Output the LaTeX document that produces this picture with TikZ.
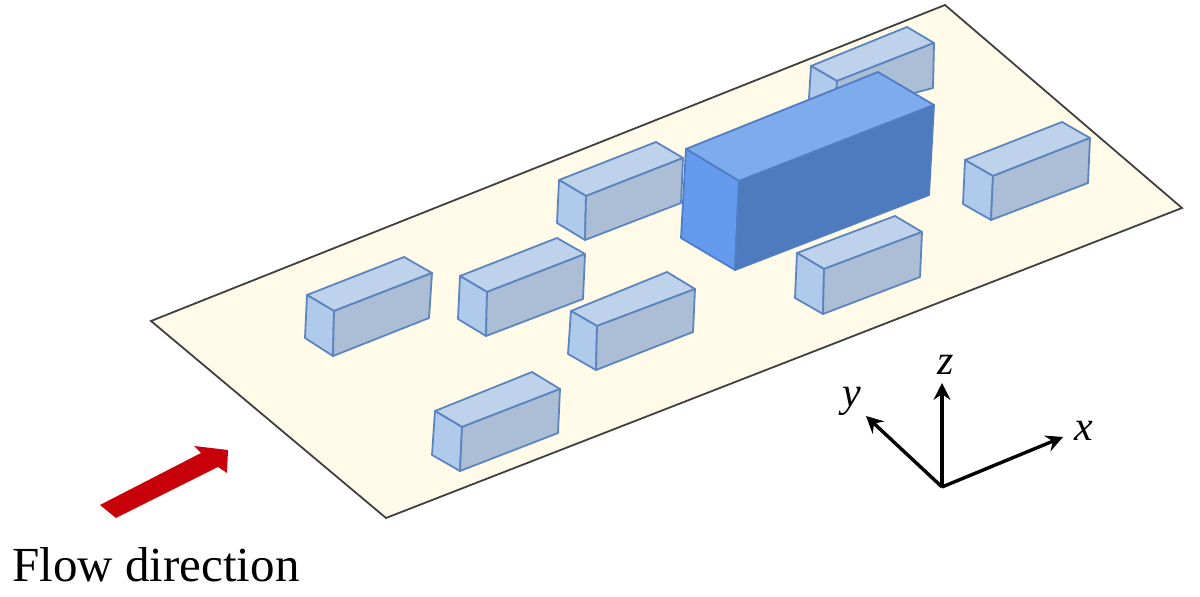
\documentclass[tikz,border=0pt]{standalone}
\usepackage{fontspec}
\setmainfont{Liberation Serif}
\usetikzlibrary{arrows.meta}
\definecolor{plate}{RGB}{255,251,232}
\definecolor{edgeblue}{RGB}{92,133,192}
\definecolor{flowred}{RGB}{200,0,10}
\tikzset{
    lowtop/.style={fill={rgb,255:red,190;green,210;blue,235},draw=edgeblue,line width=0.9pt,line join=round},
    lowend/.style={fill={rgb,255:red,176;green,202;blue,235},draw=edgeblue,line width=0.9pt,line join=round},
    lowside/.style={fill={rgb,255:red,172;green,190;blue,213},draw=edgeblue,line width=0.9pt,line join=round},
    hightop/.style={fill={rgb,255:red,126;green,170;blue,238},draw={rgb,255:red,80;green,125;blue,195},line width=0.9pt,line join=round},
    highend/.style={fill={rgb,255:red,100;green,155;blue,238},draw={rgb,255:red,80;green,125;blue,195},line width=0.9pt,line join=round},
    highside/.style={fill={rgb,255:red,78;green,123;blue,190},draw={rgb,255:red,80;green,125;blue,195},line width=0.9pt,line join=round},
    axisline/.style={-{Stealth[length=8.5pt,width=8.5pt,inset=3pt]},line width=1.7pt},
    axislabel/.style={font=\fontsize{21}{21}\selectfont\itshape,inner sep=0pt}
}
% #1 style prefix, then corners: back top, front top, right top, far top, back low, front low, right low
\newcommand{\blockbox}[8]{
    \draw[#1top] #2 -- #3 -- #4 -- #5 -- cycle;
    \draw[#1end] #2 -- #3 -- #7 -- #6 -- cycle;
    \draw[#1side] #3 -- #4 -- #8 -- #7 -- cycle;
}
\begin{document}
\begin{tikzpicture}[x=0.5pt,y=-0.5pt]
    \useasboundingbox (0,0) rectangle (1200,597);
    \draw[fill=plate,draw=black!75,line width=0.9pt] (151,321) -- (945,5) -- (1182,208) -- (386,518) -- cycle; % Ground plate

    \blockbox{low}{(811,66)}{(837,81)}{(934,43)}{(907,27)}{(809,98)}{(835,114)}{(933,88)} % Far block
    \blockbox{low}{(559,180)}{(586,196)}{(683,158)}{(656,142)}{(557,223)}{(585,240)}{(681,203)}
    \blockbox{low}{(965,160)}{(993,176)}{(1090,138)}{(1062,122)}{(963,204)}{(991,220)}{(1088,183)}
    \blockbox{low}{(797,253)}{(824,269)}{(922,232)}{(895,216)}{(795,298)}{(823,314)}{(920,277)}
    \blockbox{low}{(307,295)}{(334,311)}{(432,273)}{(404,257)}{(305,338)}{(333,356)}{(429,318)}
    \blockbox{low}{(460,276)}{(487,292)}{(585,254)}{(557,238)}{(458,319)}{(486,336)}{(583,299)}
    \blockbox{low}{(571,311)}{(597,326)}{(695,289)}{(667,272)}{(568,354)}{(596,370)}{(693,332)}
    \blockbox{low}{(435,411)}{(462,427)}{(560,389)}{(532,372)}{(432,455)}{(460,471)}{(558,433)}
    \blockbox{high}{(686,149)}{(739,181)}{(934,105)}{(878,72)}{(681,238)}{(735,270)}{(929,195)} % Tall block

    \fill[flowred] (100,505) -- (201,453) -- (194,446) -- (228,450) -- (227,473) -- (218,467) -- (116,518) -- cycle; % Flow arrow
    \node[anchor=base west,inner sep=0pt,font=\fontsize{24.5}{24.5}\selectfont] (flowlabel) at (12,582) {Flow direction};

    \coordinate (origin) at (942,487);
    \node[axislabel] (xlabel) at (1084,431) {x};
    \node[axislabel] (ylabel) at (852,401) {y};
    \node[axislabel] (zlabel) at (946,365) {z};
    \coordinate (xtip) at (1063,437);
    \coordinate (ytip) at (866,416);
    \coordinate (ztip) at (942,383);
    \draw[axisline] (origin) -- (xtip);
    \draw[axisline] (origin) -- (ytip);
    \draw[axisline] (origin) -- (ztip);
\end{tikzpicture}
\end{document}
